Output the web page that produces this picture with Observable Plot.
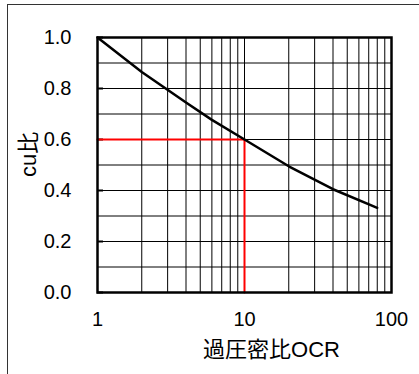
<!DOCTYPE html>
<html><head><meta charset="utf-8">
<script src="https://cdn.jsdelivr.net/npm/d3@7"></script>
<script src="https://cdn.jsdelivr.net/npm/@observablehq/plot@0.6"></script>
<style>
body{margin:0;background:#fff;}
#wrap{position:relative;width:419px;height:374px;overflow:hidden;}
#frame{position:absolute;left:7px;top:4px;width:430px;height:400px;border-top:1px solid #333;border-left:1px solid #333;}
#chart{position:absolute;left:0;top:0;}
</style></head>
<body><div id="wrap"><div id="frame"></div><div id="chart"></div></div>
<script>
const ocr = [1, 2, 4, 6, 10, 20, 40, 80];
const cuRatio = [1.0, 0.865, 0.745, 0.677, 0.6, 0.495, 0.405, 0.332];
const redX = [1, 10, 10];
const redY = [0.6, 0.6, 0.0];
const xGrid = [2,3,4,5,6,7,8,9,10,20,30,40,50,60,70,80,90];
const yGrid = [0.1,0.2,0.3,0.4,0.5,0.6,0.7,0.8,0.9];
const xTicks = [1, 10, 100];
const yTicks = [0, 0.2, 0.4, 0.6, 0.8, 1.0];
const xTitle = "過圧密比OCR";
const yTitle = "cu比";

const curve = ocr.map((x, i) => ({x, y: cuRatio[i]}));
const red = redX.map((x, i) => ({x, y: redY[i]}));
const font = "'Liberation Sans', Arial, 'Noto Sans CJK JP', sans-serif";

const chart = Plot.plot({
  width: 419, height: 374,
  marginLeft: 97, marginRight: 28, marginTop: 37, marginBottom: 82,
  style: {fontFamily: font, fontSize: "20px", color: "#000", background: "transparent"},
  x: {type: "log", domain: [1, 100]},
  y: {domain: [0, 1]},
  marks: [
    Plot.ruleX(xGrid, {stroke: "#000", strokeWidth: 1}),
    Plot.ruleY(yGrid, {stroke: "#000", strokeWidth: 1}),
    Plot.ruleY(yTicks, {stroke: "#000", strokeWidth: 2, insetRight: 288}),
    Plot.axisX(xTicks, {tickSize: 0, tickPadding: 19, fontSize: 20, label: null, tickFormat: d => String(d)}),
    Plot.axisY(yTicks, {tickSize: 0, tickPadding: 26, fontSize: 20, label: null, tickFormat: d => d.toFixed(1)}),
    Plot.line(red, {x: "x", y: "y", stroke: "#ff0000", strokeWidth: 2}),
    Plot.line(curve, {x: "x", y: "y", stroke: "#000", strokeWidth: 2.5}),
    Plot.frame({stroke: "#000", strokeWidth: 2.5}),
    Plot.text([xTitle], {frameAnchor: "bottom", text: d => d, dx: 27, dy: 57, fontSize: 22, lineAnchor: "middle"}),
    Plot.text([yTitle], {frameAnchor: "left", text: d => d, dx: -69, dy: 12, fontSize: 22, rotate: -90, lineAnchor: "middle"})
  ]
});
document.getElementById("chart").appendChild(chart);
</script>
</body></html>
